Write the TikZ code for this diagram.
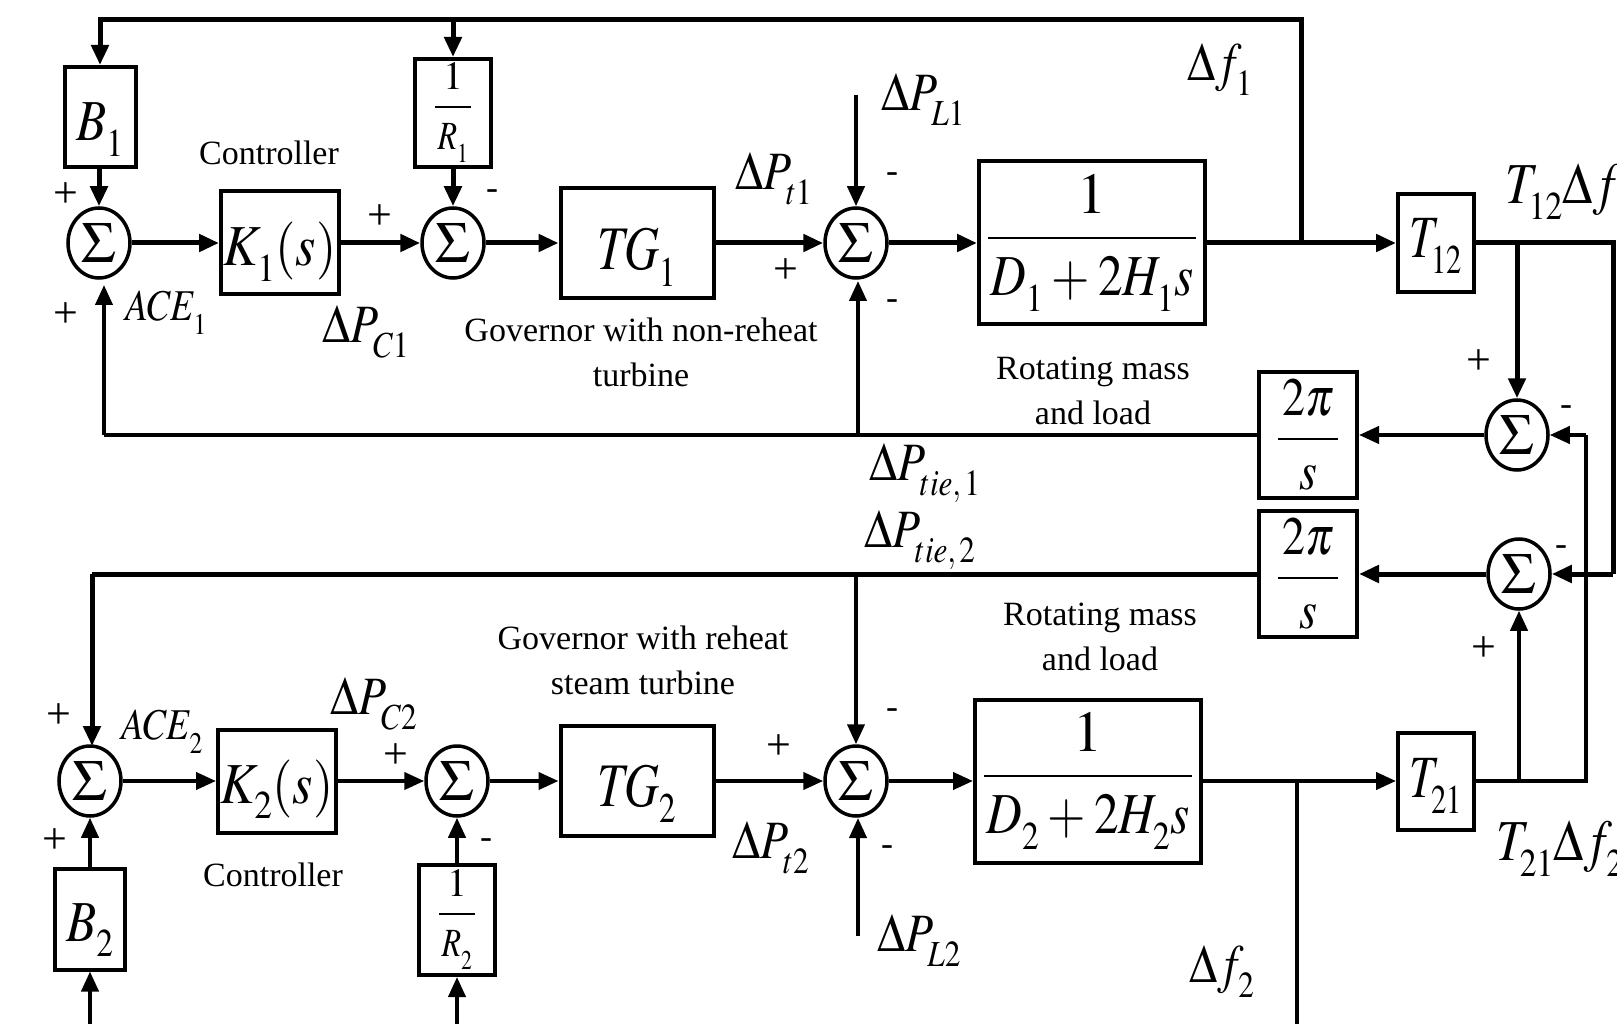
\documentclass[tikz,border=0pt]{standalone}
\usepackage{amsmath}
\usepackage{graphicx}
\usepackage{mathptmx}
\usepackage[no-math]{fontspec}
\setmainfont{Liberation Serif}
\usetikzlibrary{arrows.meta, shapes.geometric}
\newcommand{\fsize}[1]{\fontsize{#1}{1.2\dimexpr #1pt\relax}\selectfont}
\newcommand{\sq}[2][.85]{\scalebox{#1}[1]{$#2$}}
\newcommand{\lsub}[1]{_{\raisebox{-7pt}{\scalebox{.68}{$#1$}}}}
\newcommand{\blockfrac}[5]{\genfrac{}{}{2pt}{0}{\rule[#3]{0pt}{1pt}#1}{\rule{0pt}{#4}\makebox[#5]{#2}}}
\tikzset{
  >={Triangle[length=20pt,width=17pt]},
  block/.style={draw, line width=4pt, inner sep=0pt, font=\fsize{58}},
  textdrop/.style={text height=#1, text depth=0pt},
  sumnode/.style={ellipse, draw, line width=3.5pt, inner sep=0pt, minimum width=62pt, minimum height=70pt, font=\fsize{58}},
  sigwire/.style={line width=5pt},
  tiewire/.style={line width=4pt},
  caption/.style={align=center, inner sep=0pt, font=\fontsize{34}{45}\selectfont},
  varlabel/.style={inner sep=0pt, font=\fsize{54}},
  signlabel/.style={inner sep=0pt, font=\fsize{44}},
  dashlabel/.style={inner sep=0pt, font=\fsize{36}}
}
\begin{document}
\begin{tikzpicture}[x=1pt,y=-1pt]
  \useasboundingbox (0,0) rectangle (1617,1024);
  % area 1
  \node[block, textdrop=48pt, minimum width=71pt, minimum height=100pt] (ba) at (100,117) {\sq{B\lsub{1}}};
  \node[sumnode] (sa) at (99,243) {$\Sigma$};
  \node[block, textdrop=46pt, minimum width=118pt, minimum height=103pt] (ka) at (280,243) {\sq[.9]{K\lsub{1}(s)}};
  \node[block, minimum width=76pt, minimum height=108pt, font=\fsize{40}] (ra) at (453,113) {$\blockfrac{1}{\sq[.8]{R\lsub{1}}}{-1pt}{36pt}{36pt}$};
  \node[sumnode] (sb) at (453,243) {$\Sigma$};
  \node[block, textdrop=54pt, minimum width=153pt, minimum height=110pt, font=\fsize{62}] (tga) at (637,243) {\sq[.78]{T\!G\lsub{1}}};
  \node[sumnode] (sc) at (856,243) {$\Sigma$};
  \node[block, minimum width=226pt, minimum height=163pt] (pa) at (1092,243) {$\blockfrac{1}{\sq{D\lsub{1}\mkern3mu{+}\mkern3mu 2H\lsub{1}s}}{-3pt}{50pt}{208pt}$};
  \node[block, textdrop=30pt, minimum width=76pt, minimum height=98pt, font=\fsize{60}] (ta) at (1436,243) {\sq[.75]{T\lsub{12}}};
  \node[sumnode] (st) at (1517,435) {$\Sigma$};
  \node[block, minimum width=98pt, minimum height=126pt, font=\fsize{54}] (ia) at (1308,435) {$\blockfrac{\sq{2\pi}}{\sq{s}}{-4pt}{42pt}{60pt}$};
  % area 2
  \node[block, minimum width=98pt, minimum height=126pt, font=\fsize{54}] (ib) at (1308,574) {$\blockfrac{\sq{2\pi}}{\sq{s}}{-4pt}{42pt}{60pt}$};
  \node[sumnode] (su) at (1519,574) {$\Sigma$};
  \node[sumnode] (sd) at (90,781) {$\Sigma$};
  \node[block, textdrop=44pt, minimum width=118pt, minimum height=103pt] (kb) at (277,781) {\sq[.9]{K\lsub{2}(s)}};
  \node[sumnode] (se) at (457,781) {$\Sigma$};
  \node[block, textdrop=50pt, minimum width=153pt, minimum height=110pt, font=\fsize{62}] (tgb) at (637,781) {\sq[.78]{T\!G\lsub{2}}};
  \node[sumnode] (sf) at (856,781) {$\Sigma$};
  \node[block, minimum width=226pt, minimum height=163pt] (pb) at (1088,781) {$\blockfrac{1}{\sq{D\lsub{2}\mkern3mu{+}\mkern3mu 2H\lsub{2}s}}{-3pt}{50pt}{208pt}$};
  \node[block, textdrop=32pt, minimum width=76pt, minimum height=97pt, font=\fsize{60}] (tb) at (1436,781) {\sq[.75]{T\lsub{21}}};
  \node[block, textdrop=44pt, minimum width=70pt, minimum height=101pt] (bb) at (90,919) {\sq{B\lsub{2}}};
  \node[block, minimum width=76pt, minimum height=110pt, font=\fsize{40}] (rb) at (457,920) {$\blockfrac{1}{\sq[.8]{R\lsub{2}}}{-1pt}{36pt}{36pt}$};
  % free ends and branch points
  \coordinate (junfa) at (1301,243);
  \coordinate (fbtop) at (1301,20);
  \coordinate (cornera) at (1613,243);
  \coordinate (cornerb) at (1613,574);
  \coordinate (cornerc) at (1586,781);
  \coordinate (cornerd) at (1586,435);
  \coordinate (junta) at (1517,243);
  \coordinate (juntb) at (1519,781);
  \coordinate (acea) at (104,435);
  \coordinate (aceain) at (104,285);
  \coordinate (juna) at (858,435);
  \coordinate (junain) at (858,281);
  \coordinate (aceb) at (92,574);
  \coordinate (acebin) at (92,746);
  \coordinate (junb) at (856,574);
  \coordinate (loada) at (856,95);
  \coordinate (loadb) at (858,936);
  \coordinate (loadbin) at (858,818);
  \coordinate (junfb) at (1297,781);
  \coordinate (fbout) at (1297,1024);
  \coordinate (inbb) at (90,1024);
  \coordinate (inrb) at (457,1024);
  % top row
  \draw[sigwire,->] (junfa) -- (fbtop) -| (ba.north);
  \draw[sigwire,->] (ra.north |- fbtop) -- (ra.north);
  \draw[sigwire,->] (ba.south -| sa) -- (sa);
  \draw[sigwire,->] (sa) -- (ka);
  \draw[sigwire,->] (ka) -- (sb);
  \draw[sigwire,->] (ra) -- (sb);
  \draw[sigwire,->] (sb) -- (tga);
  \draw[sigwire,->] (tga) -- (sc);
  \draw[tiewire,->] (loada) -- (sc);
  \draw[sigwire,->] (sc) -- (pa);
  \draw[sigwire,->] (pa) -- (ta);
  \draw[sigwire] (ta) -- (cornera) -- (cornerb);
  \draw[sigwire,->] (junta) -- (st);
  \draw[tiewire,->] (st) -- (ia);
  \draw[tiewire] (ia) -- (acea);
  \draw[tiewire,->] (acea) -- (aceain);
  \draw[tiewire,->] (juna) -- (junain);
  % bottom row
  \draw[sigwire,->] (cornerb) -- (su);
  \draw[sigwire,->] (su) -- (ib);
  \draw[sigwire] (ib) -- (aceb);
  \draw[sigwire,->] (aceb) -- (acebin);
  \draw[tiewire,->] (junb) -- (sf);
  \draw[tiewire,->] (sd) -- (kb);
  \draw[tiewire,->] (kb) -- (se);
  \draw[tiewire,->] (se) -- (tgb);
  \draw[tiewire,->] (tgb) -- (sf);
  \draw[tiewire,->] (sf) -- (pb);
  \draw[tiewire,->] (pb) -- (tb);
  \draw[tiewire] (tb) -- (cornerc) -- (cornerd);
  \draw[tiewire,->] (cornerd) -- (st);
  \draw[tiewire,->] (juntb) -- (su);
  \draw[tiewire,->] (bb) -- (sd);
  \draw[tiewire,->] (rb) -- (se);
  \draw[tiewire,->] (inbb) -- (bb);
  \draw[tiewire,->] (inrb) -- (rb);
  \draw[tiewire,->] (loadb) -- (loadbin);
  \draw[tiewire] (junfb) -- (fbout);
  % variable names
  \node[varlabel] (dfa) at (1220,70) {\sq{\Delta f\lsub{1}}};
  \node[varlabel] (dla) at (923,100) {\sq{\Delta P\lsub{L1}}};
  \node[varlabel] (dta) at (774,179) {\sq{\Delta P\lsub{t1}}};
  \node[varlabel] (dca) at (366,332) {\sq{\Delta P\lsub{C1}}};
  \node[varlabel, font=\fsize{44}] (acelaba) at (166,313) {\sq{ACE\lsub{1}}};
  \node[varlabel] (dtiea) at (925,473) {\sq{\Delta P\lsub{tie,1}}};
  \node[varlabel] (dtieb) at (920,540) {\sq{\Delta P\lsub{tie,2}}};
  \node[varlabel] (dcb) at (374,704) {\sq{\Delta P\lsub{C2}}};
  \node[varlabel, font=\fsize{44}] (acelabb) at (162,732) {\sq{ACE\lsub{2}}};
  \node[varlabel] (dtb) at (771,848) {\sq{\Delta P\lsub{t2}}};
  \node[varlabel] (dlb) at (919,941) {\sq{\Delta P\lsub{L2}}};
  \node[varlabel] (dfb) at (1222,972) {\sq{\Delta f\lsub{2}}};
  \node[varlabel, anchor=west, font=\fsize{58}] (tfa) at (1505,192) {\sq{T\lsub{12}\Delta f\lsub{1}}};
  \node[varlabel, anchor=west, font=\fsize{58}] (tfb) at (1496,849) {\sq{T\lsub{21}\Delta f\lsub{2}}};
  % captions
  \node[caption] (cona) at (269,153) {Controller};
  \node[caption] (conb) at (273,875) {Controller};
  \node[caption] (gova) at (641,352) {Governor with non-reheat\\turbine};
  \node[caption] (govb) at (643,660) {Governor with reheat\\steam turbine};
  \node[caption] (rota) at (1093,391) {Rotating mass\\and load};
  \node[caption] (rotb) at (1100,637) {Rotating mass\\and load};
  % signs
  \foreach \x/\y [count=\i] in {66/195, 66/315, 380/217, 786/271, 1479/362, 1484/649, 59/716, 55/841, 396/756, 779/747}
    \node[signlabel] (plus\i) at (\x,\y) {+};
  \foreach \x/\y [count=\i] in {492/195, 892/178, 892/305, 1566/411, 1561/551, 486/844, 892/714, 887/851}
    \node[dashlabel] (minus\i) at (\x,\y) {-};
\end{tikzpicture}
\end{document}
